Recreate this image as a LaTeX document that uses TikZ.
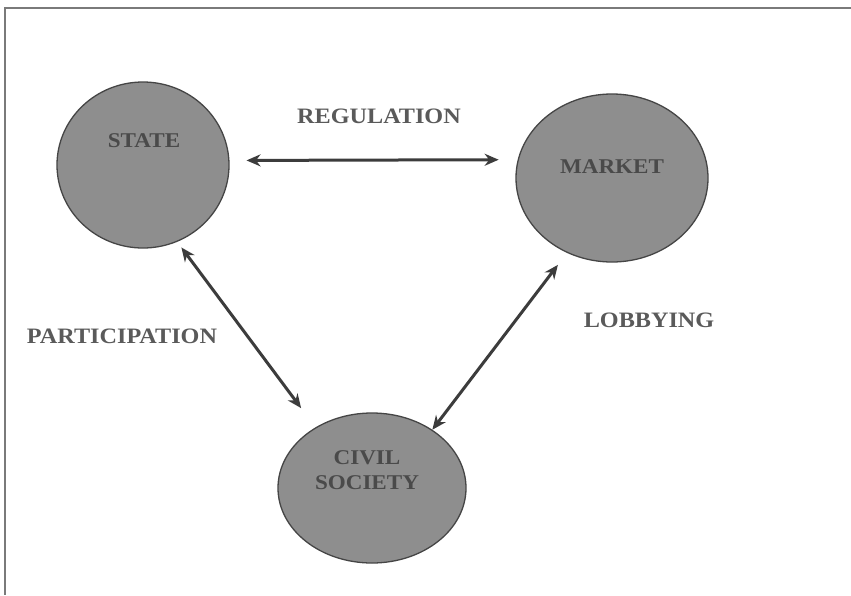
\documentclass[tikz,border=0pt]{standalone}
\usepackage{fontspec}
\setmainfont{Liberation Serif}[FakeStretch=1.1]
\usetikzlibrary{shapes.geometric,arrows.meta}
\definecolor{blobfill}{HTML}{8E8E8E}
\definecolor{blobline}{HTML}{454545}
\definecolor{inktext}{HTML}{4A4A4A}
\definecolor{labeltext}{HTML}{5A5A5A}
\definecolor{framegray}{HTML}{7A7A7A}
\definecolor{arrowgray}{HTML}{3C3C3C}
\tikzset{
  actor/.style={ellipse, draw=blobline, line width=1.3pt, fill=blobfill, inner sep=0pt},
  actorname/.style={text=inktext, font=\bfseries\fontsize{21}{25}\selectfont, align=center, inner sep=0pt},
  relation/.style={text=labeltext, font=\bfseries\fontsize{22}{24}\selectfont, inner sep=0pt},
  link/.style={draw=arrowgray, line width=3pt, {Stealth[length=14pt,width=12pt]}-{Stealth[length=14pt,width=12pt]}}
}
\begin{document}
\begin{tikzpicture}[x=1pt,y=-1pt]
  \useasboundingbox (0,0) rectangle (851,595);
  \fill[white] (0,0) rectangle (851,595);
  % frame edges
  \draw[framegray, line width=2pt] (851,8) -- (5,8) -- (5,595);

  % the three actors
  \node[actor, minimum width=172pt, minimum height=166pt] (state)  at (143,165) {};
  \node[actor, minimum width=192pt, minimum height=168pt] (market) at (612,178) {};
  \node[actor, minimum width=188pt, minimum height=150pt] (civil)  at (372,488) {};

  \node[actorname] (tstate)  at (144,141) {STATE};
  \node[actorname] (tmarket) at (612,167) {MARKET};
  \node[actorname] (tcivil)  at (367,470) {CIVIL\\SOCIETY};

  % relations
  \draw[link, shorten <=17pt, shorten >=19pt] (state.3) -- (market.169);
  \draw[link, shorten <=7pt, shorten >=24pt] (state.-66) -- (civil.133);
  \draw[link, shorten <=15pt] (market.-121) -- (civil.44);

  \node[relation] (regulation)    at (379,116) {REGULATION};
  \node[relation] (participation) at (122,336) {PARTICIPATION};
  \node[relation] (lobbying)      at (649,320) {LOBBYING};
\end{tikzpicture}
\end{document}
